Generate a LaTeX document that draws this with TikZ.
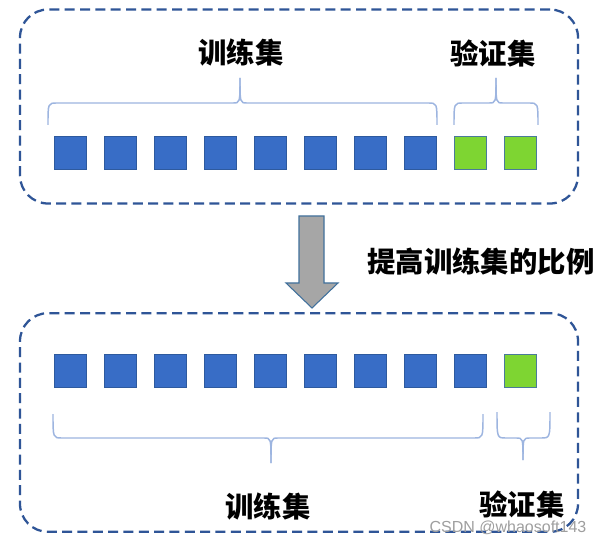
\documentclass[tikz,border=0pt]{standalone}
\usepackage{fontspec}
\newfontfamily\cjk{Noto Sans CJK SC}
\newfontfamily\wmfont{Liberation Sans}
\definecolor{boxblue}{HTML}{2F5597}
\definecolor{sqblue}{HTML}{386DC6}
\definecolor{sqblueb}{HTML}{2E5A9E}
\definecolor{sqgreen}{HTML}{7ED532}
\definecolor{sqgreenb}{HTML}{4A7A9A}
\definecolor{bracecol}{HTML}{9DB5E0}
\definecolor{arrowgray}{HTML}{A6A6A6}
\definecolor{arrowb}{HTML}{41719C}
\newcommand\mybrace[6]{%
  \draw[brc] (#1,#4) .. controls (#1,#5) .. (#1+9,#5) -- (#3-7,#5) .. controls (#3,#5) .. (#3,#6);
  \draw[brc] (#2,#4) .. controls (#2,#5) .. (#2-9,#5) -- (#3+7,#5) .. controls (#3,#5) .. (#3,#6);
}
\tikzset{
  dbox/.style={draw=boxblue, line width=1.7pt, dash pattern=on 7.5pt off 4pt,
    rounded corners=21pt, minimum width=418.5pt, inner sep=0pt},
  bsq/.style={draw=sqblueb, fill=sqblue, line width=0.7pt, minimum size=24.5pt, inner sep=0pt},
  gsq/.style={draw=sqgreenb, fill=sqgreen, line width=0.7pt, minimum size=24.5pt, inner sep=0pt},
  brc/.style={draw=bracecol, line width=1.1pt},
  lbl/.style={font=\cjk\bfseries\fontsize{21.3}{25}\selectfont, inner sep=0pt, text=black},
  blockarrow/.style={fill=arrowgray, draw=arrowb, line width=0.8pt, line join=miter}
}
\begin{document}
\begin{tikzpicture}[x=0.75pt,y=-0.75pt]
\useasboundingbox (0,0) rectangle (603,545);
\fill[white] (0,0) rectangle (603,545);
% boxes
\node[dbox, minimum height=145.5pt] (topbox) at (299,106.5) {};
\node[dbox, minimum height=164pt] (botbox) at (299,422.5) {};
% top squares
\foreach \i in {1,...,8} \node[bsq] (t\i) at ({70.5+50*(\i-1)},153) {};
\foreach \i in {9,10} \node[gsq] (t\i) at ({70.5+50*(\i-1)},153) {};
% bottom squares
\foreach \i in {1,...,9} \node[bsq] (b\i) at ({70.5+50*(\i-1)},371) {};
\node[gsq] (b10) at (520.5,371) {};
% top braces
\mybrace{48}{437}{240}{125}{103}{78}
\mybrace{454}{538}{496}{125}{103}{78}
% bottom braces
\mybrace{53}{483}{271}{414}{438}{463}
\mybrace{497}{550}{523}{412}{438}{460}
% labels
\node[lbl] (ttrain) at (241,53) {训练集};
\node[lbl] (tval) at (493,53) {验证集};
\node[lbl] (btrain) at (268,507) {训练集};
\node[lbl] (bval) at (522,504) {验证集};
\node[lbl, anchor=west] (ratio) at (367,262) {提高训练集的比例};
% block arrow
\draw[blockarrow] (299,216) -- (324,216) -- (324,283) -- (338,283) -- (312,308) -- (286,283) -- (299,283) -- cycle;
% watermark
\node[font=\wmfont\fontsize{12}{14}\selectfont, text=gray!75, inner sep=0pt] (wm) at (508,528) {CSDN @whaosoft143};
\end{tikzpicture}
\end{document}
